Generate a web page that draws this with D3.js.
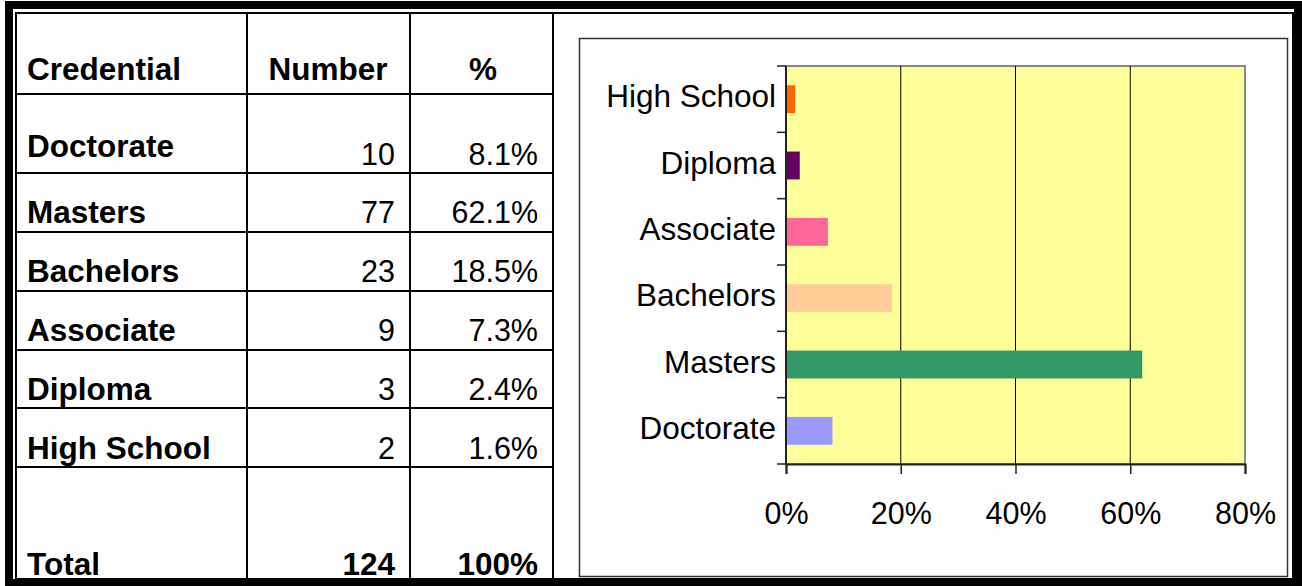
<!DOCTYPE html>
<html>
<head>
<meta charset="utf-8">
<script src="https://cdn.jsdelivr.net/npm/d3@7"></script>
<style>
  html, body { margin: 0; padding: 0; background: #fff; }
  svg { display: block; font-family: "Liberation Sans", Arial, sans-serif; }
</style>
</head>
<body>
<svg id="chart" width="1302" height="586"></svg>
<script>
    // table rows, in table order
    var credentials = ["Doctorate", "Masters", "Bachelors", "Associate", "Diploma", "High School"];
    var counts = [10, 77, 23, 9, 3, 2];
    var percents = [8.1, 62.1, 18.5, 7.3, 2.4, 1.6];
    var totalCount = 124;
    var totalPercent = "100%";

    // chart, top to bottom
    var chartCats = ["High School", "Diploma", "Associate", "Bachelors", "Masters", "Doctorate"];
    var barColors = ["#ff6600", "#660066", "#ff6699", "#ffcc99", "#339966", "#9999ff"];
    var xTicks = [0, 20, 40, 60, 80];

    var svg = d3.select("#chart");

    // ---------- outer double frame ------------
    svg.append("rect").attr("x", 9).attr("y", 5).attr("width", 1289).attr("height", 578)
        .attr("fill", "none").attr("stroke", "#000").attr("stroke-width", 8);
    svg.append("rect").attr("x", 16).attr("y", 13).attr("width", 1277).attr("height", 566)
        .attr("fill", "none").attr("stroke", "#000").attr("stroke-width", 2);

    // ---------- table ------------
    var colLines = [247, 410, 553];
    var rowLines = [94, 173, 232, 291, 350, 408, 467];
    var table = svg.append("g");

    table.selectAll("line.col").data(colLines).enter().append("line")
        .attr("x1", function (d) { return d; }).attr("x2", function (d) { return d; })
        .attr("y1", 13).attr("y2", 579)
        .attr("stroke", "#000").attr("stroke-width", 2);
    table.selectAll("line.row").data(rowLines).enter().append("line")
        .attr("x1", 16).attr("x2", 553)
        .attr("y1", function (d) { return d; }).attr("y2", function (d) { return d; })
        .attr("stroke", "#000").attr("stroke-width", 2);

    function cell(x, y, txt, anchor, bold) {
        table.append("text")
            .attr("x", x).attr("y", y)
            .attr("text-anchor", anchor)
            .attr("font-size", bold ? 31.5 : 30.5)
            .attr("font-weight", bold ? "bold" : "normal")
            .attr("fill", "#000")
            .text(txt);
    }

    cell(27, 80, "Credential", "start", true);
    cell(328, 80, "Number", "middle", true);
    cell(483, 80, "%", "middle", true);

    var labelBase = [157, 223, 282, 341, 400, 459];
    var numBase = [165, 223, 282, 341, 400, 459];
    credentials.forEach(function (c, i) {
        cell(27, labelBase[i], c, "start", true);
        cell(395, numBase[i], counts[i], "end", false);
        cell(538, numBase[i], percents[i].toFixed(1) + "%", "end", false);
    });
    cell(27, 575, "Total", "start", true);
    cell(395, 575, totalCount, "end", true);
    cell(538, 575, totalPercent, "end", true);

    // ---------- chart box ------------
    svg.append("rect").attr("x", 579.5).attr("y", 38.5).attr("width", 708).attr("height", 538)
        .attr("fill", "#fff").attr("stroke", "#333").attr("stroke-width", 1.5);

    var plot = {left: 786, top: 66, right: 1245, bottom: 464};

    var x = d3.scaleLinear().domain([0, 80]).range([plot.left, plot.right]);
    var y = d3.scaleBand().domain(chartCats).range([plot.top, plot.bottom])
        .paddingInner(0.58).paddingOuter(0.29);
    var yEdge = d3.scaleBand().domain(chartCats).range([plot.top, plot.bottom]);

    var g = svg.append("g");

    g.append("rect")
        .attr("x", plot.left).attr("y", plot.top)
        .attr("width", plot.right - plot.left).attr("height", plot.bottom - plot.top)
        .attr("fill", "#ffff99").attr("stroke", "#888").attr("stroke-width", 2);

    // gridlines
    g.selectAll("line.grid").data(xTicks.slice(1, -1)).enter().append("line")
        .attr("x1", function (d) { return x(d); }).attr("x2", function (d) { return x(d); })
        .attr("y1", plot.top).attr("y2", plot.bottom)
        .attr("stroke", "#000").attr("stroke-width", 1);

    // bars
    g.selectAll("rect.bar").data(chartCats).enter().append("rect")
        .attr("x", x(0))
        .attr("y", function (d) { return y(d); })
        .attr("width", function (d) { return x(percents[credentials.indexOf(d)]) - x(0); })
        .attr("height", y.bandwidth())
        .attr("fill", function (d, i) { return barColors[i]; });

    // y axis with ticks at category boundaries
    var yTickPos = chartCats.map(function (d) { return yEdge(d); }).concat([plot.bottom]);
    g.append("line").attr("x1", plot.left).attr("x2", plot.left)
        .attr("y1", plot.top).attr("y2", plot.bottom)
        .attr("stroke", "#222").attr("stroke-width", 2);
    g.selectAll("line.ytick").data(yTickPos).enter().append("line")
        .attr("x1", plot.left - 9).attr("x2", plot.left)
        .attr("y1", function (d) { return d; }).attr("y2", function (d) { return d; })
        .attr("stroke", "#222").attr("stroke-width", 1.5);
    g.selectAll("text.ylab").data(chartCats).enter().append("text")
        .attr("x", plot.left - 10)
        .attr("y", function (d) { return yEdge(d) + yEdge.bandwidth() / 2 + 8; })
        .attr("text-anchor", "end")
        .attr("font-size", 31.5)
        .attr("fill", "#000")
        .text(function (d) { return d; });

    // x axis
    var xAxis = d3.axisBottom(x).tickValues(xTicks)
        .tickSize(10).tickPadding(28)
        .tickFormat(function (d) { return d + "%"; });
    var xg = g.append("g").attr("transform", "translate(0," + plot.bottom + ")").call(xAxis);
    xg.select(".domain").attr("stroke", "#222").attr("stroke-width", 2);
    xg.selectAll(".tick line").attr("stroke", "#222").attr("stroke-width", 1.5);
    xg.selectAll(".tick text")
        .attr("font-size", 30.5)
        .attr("font-family", "Liberation Sans, Arial, sans-serif")
        .attr("fill", "#000");
</script>
</body>
</html>
